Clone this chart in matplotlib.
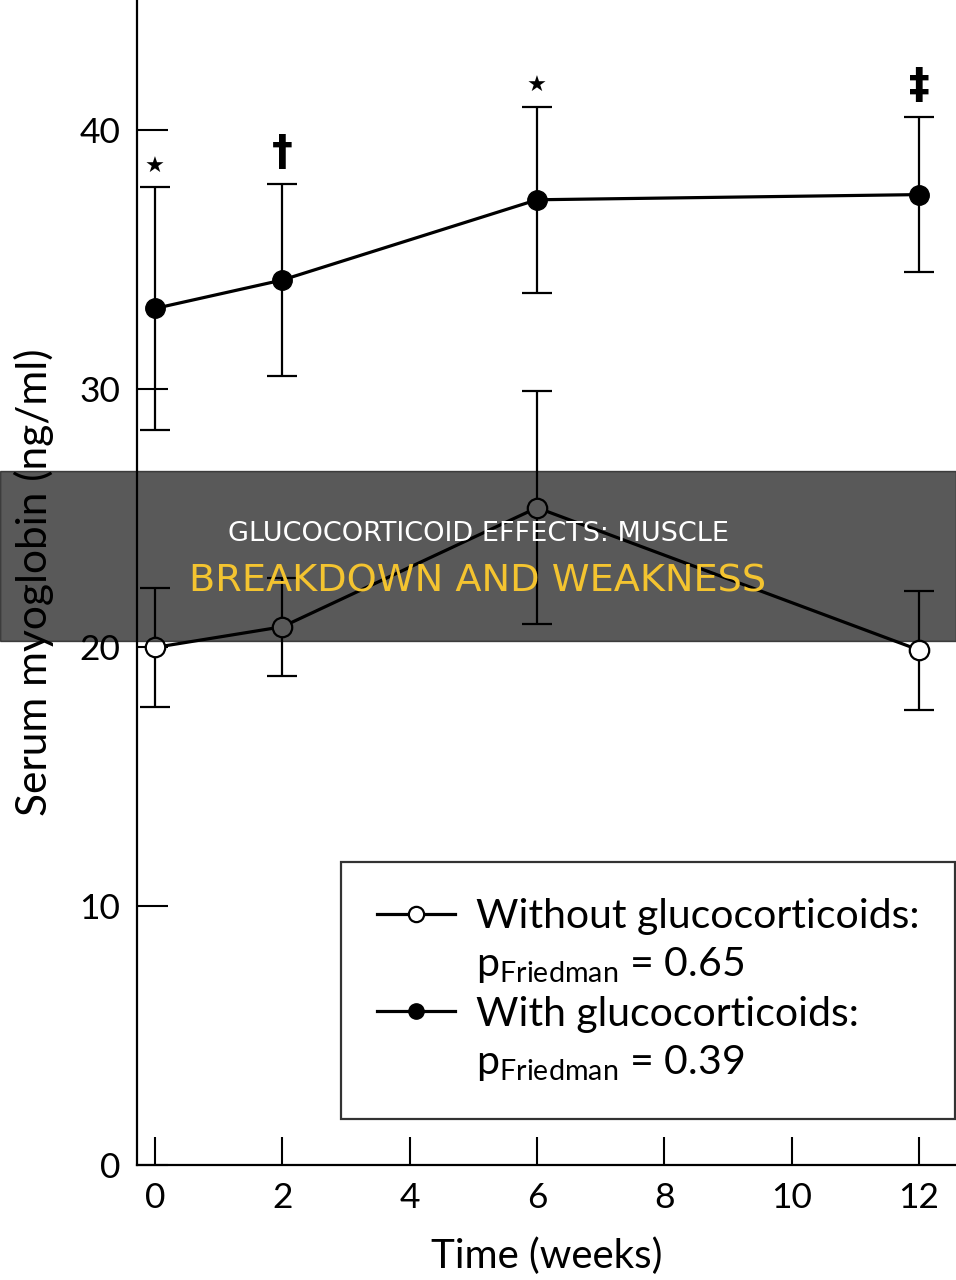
import numpy as np
import matplotlib
matplotlib.use("Agg")
import matplotlib.pyplot as plt
from matplotlib.lines import Line2D
from matplotlib.patches import Rectangle
from matplotlib import font_manager

# data
weeks = [0, 2, 6, 12]
without_mean = [20.0, 20.8, 25.4, 19.9]
without_err = [2.3, 1.9, 4.5, 2.3]
with_mean = [33.1, 34.2, 37.3, 37.5]
with_err = [4.7, 3.7, 3.6, 3.0]
sig_marks = ["\u2605", "\u2020", "\u2605", "\u2021"]
x_ticks = [0, 2, 4, 6, 8, 10, 12]
y_ticks = [0, 10, 20, 30, 40]
p_without = "0.65"
p_with = "0.39"

fams = [f.name for f in font_manager.fontManager.ttflist]
base = "Lato" if "Lato" in fams else "DejaVu Sans"
plt.rcParams["font.family"] = [base, "DejaVu Sans"]
plt.rcParams["mathtext.fontset"] = "custom"
plt.rcParams["mathtext.rm"] = base

fig = plt.figure(figsize=(9.56, 12.8), dpi=100)
ax = fig.add_axes([137 / 956, 115 / 1280, 819 / 956, 1165 / 1280])

ax.errorbar(weeks, with_mean, yerr=with_err, color="black", lw=2.3,
            marker="o", ms=14, mfc="black", mec="black",
            elinewidth=1.6, capsize=11, capthick=1.6, zorder=3)
ax.errorbar(weeks, without_mean, yerr=without_err, color="black", lw=2.3,
            marker="o", ms=14, mfc="white", mec="black", mew=1.6,
            elinewidth=1.6, capsize=11, capthick=1.6, zorder=3)

# significance marks above the upper bars
for x, m, e, s in zip(weeks, with_mean, with_err, sig_marks):
    fs = 16 if s == "\u2605" else 30
    ax.text(x, m + e + 0.4, s, ha="center", va="bottom", fontsize=fs,
            family=["DejaVu Sans"], fontweight="bold" if s != "\u2605" else "normal")

ax.set_xlim(-0.283, 12.58)
ax.set_ylim(0, 45.02)
ax.set_xticks(x_ticks)
ax.set_yticks(y_ticks)
ax.spines["top"].set_visible(False)
ax.spines["right"].set_visible(False)
for sp in ["left", "bottom"]:
    ax.spines[sp].set_linewidth(1.6)
ax.tick_params(axis="y", direction="in", length=22, width=1.5, pad=12, labelsize=25.5)
ax.tick_params(axis="x", direction="in", length=20, width=1.5, pad=12, labelsize=25.5)
ax.set_xlabel("Time (weeks)", fontsize=29, labelpad=17)
ax.set_ylabel("Serum myoglobin (ng/ml)", fontsize=30.5, labelpad=18)

h_open = Line2D([], [], color="black", lw=2.3, marker="o", ms=11,
                mfc="white", mec="black", mew=1.6)
h_fill = Line2D([], [], color="black", lw=2.3, marker="o", ms=11,
                mfc="black", mec="black")
h_blank = Line2D([], [], color="none")
labels = ["Without glucocorticoids:",
          r"p$_{\rm Friedman}$ = " + p_without,
          "With glucocorticoids:",
          r"p$_{\rm Friedman}$ = " + p_with]
leg = ax.legend([h_open, h_blank, h_fill, h_blank], labels,
                loc="lower right", bbox_to_anchor=(0.999, 0.0395),
                borderaxespad=0,
                fontsize=29.5, frameon=True, fancybox=False,
                edgecolor="black", handlelength=1.9, handletextpad=0.5,
                labelspacing=0.25, borderpad=0.88)
leg.get_frame().set_linewidth(1.6)

# title banner laid over the chart
fig.patches.append(Rectangle((0, 639 / 1280), 1, 170 / 1280,
                             transform=fig.transFigure, color="black",
                             alpha=0.65, zorder=10))
fig.text(0.5, 1 - 534 / 1280, "GLUCOCORTICOID EFFECTS: MUSCLE",
         color="white", fontsize=19.5, ha="center", va="center", zorder=11,
         family=["DejaVu Sans"])
fig.text(0.5, 1 - 582 / 1280, "BREAKDOWN AND WEAKNESS",
         color="#f4c430", fontsize=27.5, ha="center", va="center", zorder=11,
         family=["DejaVu Sans"])

fig.savefig("out.png", dpi=100)
